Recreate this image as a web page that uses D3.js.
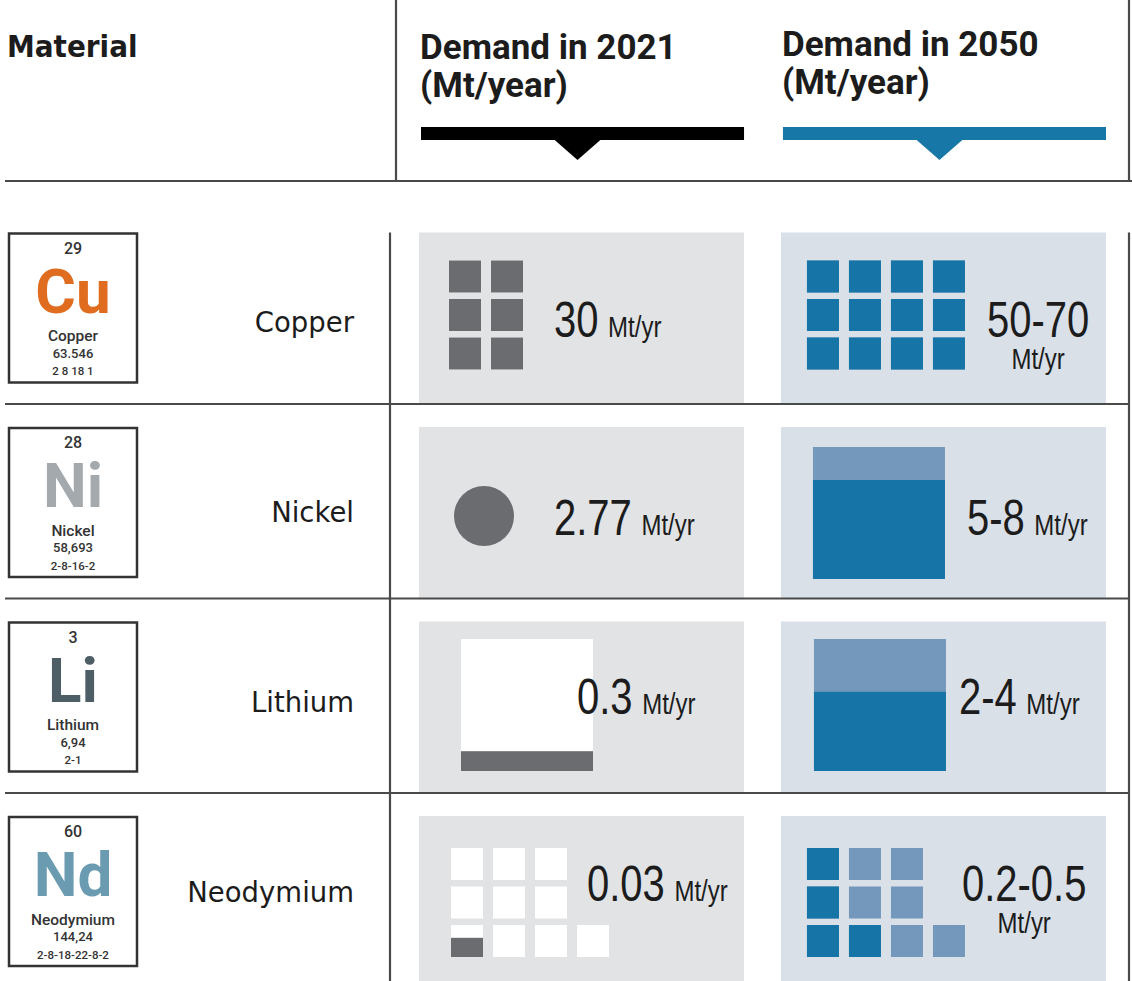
<!DOCTYPE html>
<html>
<head>
<meta charset="utf-8">
<script src="https://cdn.jsdelivr.net/npm/d3@7"></script>
<style>
  body { margin: 0; background: #fff; }
  svg { display: block; }
</style>
</head>
<body>
<div id="divTable"></div>
<script>
// values
var materials = ['Copper', 'Nickel', 'Lithium', 'Neodymium']
var symbols = ['Cu', 'Ni', 'Li', 'Nd']
var atomicNumbers = ['29', '28', '3', '60']
var atomicWeights = ['63.546', '58,693', '6,94', '144,24']
var shellConfigs = ['2 8 18 1', '2-8-16-2', '2-1', '2-8-18-22-8-2']
var symbolColors = ['#df6c1f', '#a4a9ad', '#4e5e67', '#6b9bb1']
var years = ['2021', '2050']
var headers = [['Demand in 2021', '(Mt/year)'], ['Demand in 2050', '(Mt/year)']]
var demand2021 = ['30', '2.77', '0.3', '0.03']
var demand2050 = ['50-70', '5-8', '2-4', '0.2-0.5']
var unitLabel = 'Mt/yr'

// tile icons: rows of tiles, each value is the filled share of the tile
var tiles2021 = [
  [[1, 1], [1, 1], [1, 1]],
  null,
  null,
  [[0, 0, 0], [0, 0, 0], [0.6, 0, 0, 0]]
]
var tiles2050 = [
  [[1, 1, 1, 1], [1, 1, 1, 1], [1, 1, 1, 1]],
  null,
  null,
  [[1, 0, 0], [1, 0, 0], [1, 1, 0, 0]]
]
// single block icons: filled share of the block
var block2021 = [null, null, 0.15, null]
var block2050 = [null, 0.75, 0.6, null]
// nickel 2021 drawn as a disc
var disc2021 = [null, 2.77, null, null]

// layout settings (positions and sizes only)
var layout = {
  width: 1132,
  height: 981,
  rowTop: 209.5,
  rowStep: 194.5,
  panelInset: 23,
  colLeft: 419,
  colRight: 1106,
  colPadding: 0.102,
  nameRange: [332, 902],
  nameX: 354,
  tileStepX: 42,
  tileStepY: 38.5,
  tileSize: 32,
  blockSize: 132,
  discRadius: 30,
  // icon offsets from panel left / row top
  icon2021: [[30, 51], [65, 112], [42, 40.5], [32, 55]],
  icon2050: [[26, 51], [32, 43], [33, 40.5], [26, 55]],
  // number offsets from panel left / row top (baseline)
  num2021: [[135, 127], [135, 131], [158, 115], [168, 108]],
  num2050: [[206, 127], [186, 131], [178, 115], [181, 108]],
  unitBelow2050: [true, false, false, true],
  // horizontal squeeze that imitates the condensed face of the numbers
  narrow: 0.8
}

var colors = {
  line: '#4a4a4a',
  panel2021: '#e2e3e5',
  panel2050: '#d9e0e8',
  base2021: '#ffffff',
  fill2021: '#6b6c6f',
  base2050: '#7398bb',
  fill2050: '#1675a6',
  bar2021: '#000000',
  bar2050: '#1777a6',
  text: '#1c1c1c'
}

var numFont = "'Liberation Sans', Arial, sans-serif"

var chart = {}

function initChart () {
  chart.svg = d3.select('#divTable')
    .append('svg')
    .attr('width', layout.width)
    .attr('height', layout.height)

  chart.rowScale = d3.scaleBand()
    .domain(materials)
    .range([layout.rowTop, layout.rowTop + layout.rowStep * materials.length])
  chart.colScale = d3.scaleBand()
    .domain(years)
    .range([layout.colLeft, layout.colRight])
    .paddingInner(layout.colPadding)
  chart.nameScale = d3.scalePoint().domain(materials).range(layout.nameRange)
  chart.tileX = d3.scaleLinear().domain([0, 1]).range([0, layout.tileStepX])
  chart.tileY = d3.scaleLinear().domain([0, 1]).range([0, layout.tileStepY])
  chart.discScale = d3.scaleSqrt().domain([0, d3.max(disc2021)]).range([0, layout.discRadius])
}

function drawHeader () {
  var svg = chart.svg
  svg.append('text')
    .attr('x', 7)
    .attr('y', 57)
    .style('font-family', "'DejaVu Sans Condensed', 'DejaVu Sans', sans-serif")
    .style('font-stretch', 'condensed')
    .style('font-weight', 'bold')
    .style('font-size', '31px')
    .attr('fill', colors.text)
    .text('Material')

  var headY = [[58.5, 97], [55.5, 94]]
  years.forEach(function (year, i) {
    var x = chart.colScale(year)
    var w = chart.colScale.bandwidth()
    var t = svg.append('text')
      .style('font-family', 'Roboto, sans-serif')
      .style('font-weight', 'bold')
      .style('font-size', '35px')
      .attr('fill', colors.text)
    headers[i].forEach(function (line, j) {
      t.append('tspan').attr('x', x + 1).attr('y', headY[i][j]).text(line)
    })
    var barColor = i === 0 ? colors.bar2021 : colors.bar2050
    svg.append('rect')
      .attr('x', x + 2)
      .attr('y', 127)
      .attr('width', w - 2)
      .attr('height', 13)
      .attr('fill', barColor)
    var cx = x + w / 2 - 4
    svg.append('path')
      .attr('d', 'M' + (cx - 24) + ',139 L' + (cx + 24) + ',139 L' + cx + ',160 Z')
      .attr('fill', barColor)
  })
}

function drawGrid () {
  var svg = chart.svg
  var rs = chart.rowScale
  var bottom = layout.height
  var lines = [
    [396, 0, 396, 181],
    [5, 181, layout.width, 181],
    [1129, 0, 1129, 181],
    [1129, rs(materials[0]) + layout.panelInset, 1129, bottom],
    [390, rs(materials[0]) + layout.panelInset, 390, bottom]
  ]
  materials.slice(1).forEach(function (m) {
    lines.push([5, rs(m), 1130, rs(m)])
  })
  svg.append('g').attr('id', 'g-lines')
    .selectAll('line')
    .data(lines)
    .enter()
    .append('line')
    .attr('x1', function (d) { return d[0] })
    .attr('y1', function (d) { return d[1] })
    .attr('x2', function (d) { return d[2] })
    .attr('y2', function (d) { return d[3] })
    .attr('stroke', colors.line)
    .attr('stroke-width', 2.2)
}

function drawPanels () {
  var cells = []
  materials.forEach(function (m, i) {
    years.forEach(function (y) { cells.push({ m: m, year: y }) })
  })
  chart.svg.append('g').attr('id', 'g-panels')
    .selectAll('rect')
    .data(cells)
    .enter()
    .append('rect')
    .attr('x', function (d) { return chart.colScale(d.year) })
    .attr('y', function (d) { return chart.rowScale(d.m) + layout.panelInset })
    .attr('width', chart.colScale.bandwidth())
    .attr('height', chart.rowScale.bandwidth() - layout.panelInset)
    .attr('fill', function (d) { return d.year === '2021' ? colors.panel2021 : colors.panel2050 })
}

function drawElements () {
  var g = chart.svg.append('g').attr('id', 'g-elements')
  var boxes = g.selectAll('g')
    .data(materials)
    .enter()
    .append('g')
    .attr('transform', function (d) {
      return 'translate(9,' + (chart.rowScale(d) + 24) + ')'
    })
  boxes.append('rect')
    .attr('width', 128)
    .attr('height', 149)
    .attr('fill', '#fff')
    .attr('stroke', '#333')
    .attr('stroke-width', 2.5)
  var small = [
    { arr: atomicNumbers, y: 20, size: 16 },
    { arr: materials, y: 107.5, size: 15.5 },
    { arr: atomicWeights, y: 124, size: 13 },
    { arr: shellConfigs, y: 141.5, size: 11.5 }
  ]
  small.forEach(function (s) {
    boxes.append('text')
      .attr('x', 64)
      .attr('y', s.y)
      .attr('text-anchor', 'middle')
      .style('font-family', 'Roboto, sans-serif')
      .style('font-size', s.size + 'px')
      .style('font-weight', 500)
      .attr('fill', '#333')
      .text(function (d, i) { return s.arr[i] })
  })
  boxes.append('text')
    .attr('x', 64)
    .attr('y', 79)
    .attr('text-anchor', 'middle')
    .style('font-family', 'Roboto, sans-serif')
    .style('font-size', '62px')
    .style('font-weight', 'bold')
    .attr('fill', function (d, i) { return symbolColors[i] })
    .text(function (d, i) { return symbols[i] })

  // material names
  chart.svg.append('g').attr('id', 'g-names')
    .selectAll('text')
    .data(materials)
    .enter()
    .append('text')
    .attr('x', layout.nameX)
    .attr('y', function (d) { return chart.nameScale(d) })
    .attr('text-anchor', 'end')
    .style('font-family', "'DejaVu Sans', sans-serif")
    .style('font-size', '27.5px')
    .attr('fill', colors.text)
    .text(function (d) { return d })
}

// draw rows of tiles, each filled from the bottom by its share
function drawTiles (g, rows, base, fill) {
  var s = layout.tileSize
  rows.forEach(function (row, r) {
    var tile = g.selectAll('.tile-r' + r)
      .data(row)
      .enter()
      .append('g')
      .attr('class', 'tile-r' + r)
      .attr('transform', function (d, c) {
        return 'translate(' + chart.tileX(c) + ',' + chart.tileY(r) + ')'
      })
    tile.append('rect')
      .attr('width', s)
      .attr('height', s)
      .attr('fill', base)
    tile.append('rect')
      .attr('y', function (d) { return s * (1 - d) })
      .attr('width', s)
      .attr('height', function (d) { return s * d })
      .attr('fill', fill)
  })
}

function drawBlock (g, share, base, fill) {
  var s = layout.blockSize
  g.append('rect').attr('width', s).attr('height', s).attr('fill', base)
  g.append('rect')
    .attr('y', s * (1 - share))
    .attr('width', s)
    .attr('height', s * share)
    .attr('fill', fill)
}

function drawIcons () {
  var g = chart.svg.append('g').attr('id', 'g-icons')
  materials.forEach(function (m, i) {
    var top = chart.rowScale(m)
    // 2021 column
    var x21 = chart.colScale('2021')
    var g21 = g.append('g')
      .attr('transform', 'translate(' + (x21 + layout.icon2021[i][0]) + ',' + (top + layout.icon2021[i][1]) + ')')
    if (tiles2021[i]) drawTiles(g21, tiles2021[i], colors.base2021, colors.fill2021)
    if (block2021[i] !== null) drawBlock(g21, block2021[i], colors.base2021, colors.fill2021)
    if (disc2021[i] !== null) {
      g21.append('circle')
        .attr('r', chart.discScale(disc2021[i]))
        .attr('fill', colors.fill2021)
    }
    // 2050 column
    var x50 = chart.colScale('2050')
    var g50 = g.append('g')
      .attr('transform', 'translate(' + (x50 + layout.icon2050[i][0]) + ',' + (top + layout.icon2050[i][1]) + ')')
    if (tiles2050[i]) drawTiles(g50, tiles2050[i], colors.base2050, colors.fill2050)
    if (block2050[i] !== null) drawBlock(g50, block2050[i], colors.base2050, colors.fill2050)
  })
}

function drawNumbers () {
  var g = chart.svg.append('g').attr('id', 'g-numbers')
  var k = layout.narrow
  materials.forEach(function (m, i) {
    var top = chart.rowScale(m)
    var cells = [
      { x: chart.colScale('2021') + layout.num2021[i][0], y: top + layout.num2021[i][1], v: demand2021[i], below: false },
      { x: chart.colScale('2050') + layout.num2050[i][0], y: top + layout.num2050[i][1], v: demand2050[i], below: layout.unitBelow2050[i] }
    ]
    cells.forEach(function (c) {
      var t = g.append('text')
        .attr('transform', 'translate(' + c.x + ',' + c.y + ') scale(' + k + ',1)')
        .style('font-family', numFont)
        .attr('fill', colors.text)
      t.append('tspan').style('font-size', '50px').text(c.v)
      if (!c.below) {
        t.append('tspan').attr('dx', 12).style('font-size', '30px').text(unitLabel)
      } else {
        var w = t.node().getComputedTextLength() * k
        g.append('text')
          .attr('transform', 'translate(' + (c.x + w / 2) + ',' + (c.y + 32) + ') scale(' + k + ',1)')
          .attr('text-anchor', 'middle')
          .style('font-family', numFont)
          .style('font-size', '30px')
          .attr('fill', colors.text)
          .text(unitLabel)
      }
    })
  })
}

initChart()
drawPanels()
drawGrid()
drawHeader()
drawElements()
drawIcons()
drawNumbers()
</script>
</body>
</html>
